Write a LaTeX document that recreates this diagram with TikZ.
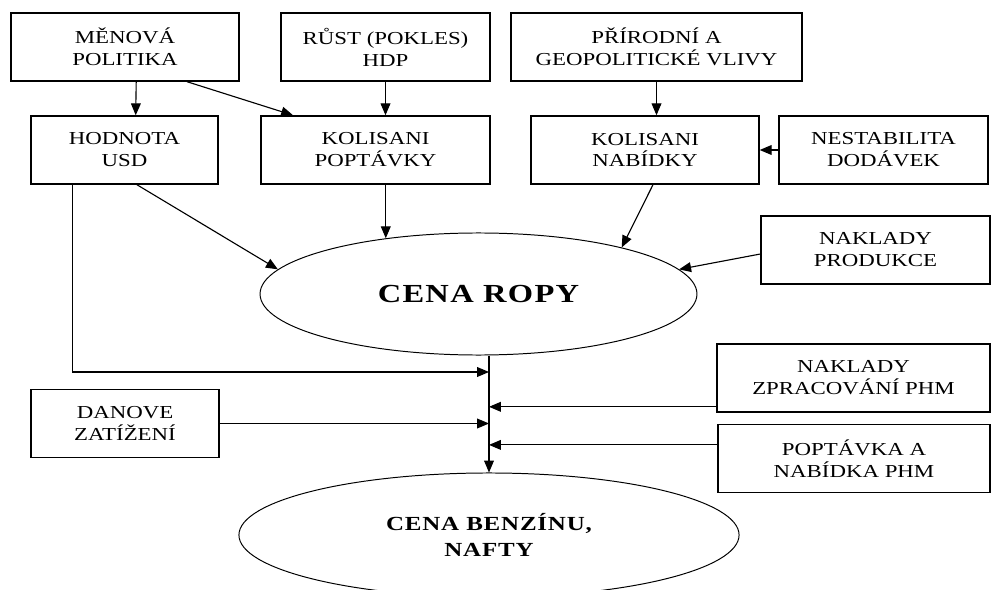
\documentclass[tikz,border=0pt]{standalone}
\usepackage{fontspec}
\setmainfont{Liberation Serif}[FakeStretch=1.25]
\usetikzlibrary{arrows.meta,shapes.geometric}

\tikzset{
  factor/.style={draw, line width=1pt, rectangle, align=center, inner sep=2pt,
    minimum height=1.7cm, font=\fontsize{13}{15.6}\selectfont},
  price/.style={draw, line width=0.7pt, ellipse, align=center, inner sep=0pt},
  arr/.style={line width=0.8pt, -{Triangle[length=8.5pt,width=7pt]}},
  link/.style={line width=0.8pt}
}

\begin{document}
\begin{tikzpicture}[x=0.025cm,y=-0.025cm]
  \useasboundingbox (0,0) rectangle (991,590);

  % top row
  \node[factor, minimum width=5.7cm] (menova) at (125,47) {MĚNOVÁ\\POLITIKA};
  \node[factor, minimum width=5.22cm] (rust) at (385.5,47) {RŮST (POKLES)\\HDP};
  \node[factor, minimum width=7.27cm] (prirodni) at (656.5,47) {PŘÍRODNÍ A\\GEOPOLITICKÉ VLIVY};

  % second row
  \node[factor, minimum width=4.67cm] (hodnota) at (124.5,150) {HODNOTA\\USD};
  \node[factor, minimum width=5.72cm] (poptavky) at (375.5,150) {KOLISANI\\POPTÁVKY};
  \node[factor, minimum width=5.7cm] (nabidky) at (645,150) {KOLISANI\\NABÍDKY};
  \node[factor, minimum width=5.22cm] (nestabilita) at (883.5,150) {NESTABILITA\\DODÁVEK};

  \node[factor, minimum width=5.72cm] (produkce) at (875.5,250) {NAKLADY\\PRODUKCE};

  \node[price, minimum width=10.92cm, minimum height=3.05cm,
    font=\fontsize{18.5}{22}\bfseries\selectfont\addfontfeatures{LetterSpace=5}] (ropa) at (478.5,294) {CENA ROPY};

  % lower part
  \node[factor, minimum width=6.82cm] (zpracovani) at (853.5,378) {NAKLADY\\ZPRACOVÁNÍ PHM};
  \node[factor, minimum width=6.8cm] (phm) at (854,458.5) {POPTÁVKA A\\NABÍDKA PHM};
  \node[factor, minimum width=4.7cm] (danove) at (125,423.5) {DANOVE\\ZATÍŽENÍ};

  \node[price, minimum width=12.5cm, minimum height=3.1cm,
    font=\fontsize{14.2}{18.5}\bfseries\selectfont\addfontfeatures{LetterSpace=4}] (benzin) at (489,535) {CENA BENZÍNU,\\NAFTY};

  % arrows into the second row
  \draw[arr] ([xshift=0.28cm]menova.south) -- ([xshift=0.28cm]hodnota.north);
  \draw[arr] ([xshift=1.55cm]menova.south) -- ([xshift=-2.06cm]poptavky.north);
  \draw[arr] (rust.south) -- (rust.south |- poptavky.north);
  \draw[arr] (prirodni.south) -- (prirodni.south |- nabidky.north);
  \draw[arr] (nestabilita.west) -- (nabidky.east);

  % arrows into CENA ROPY
  \draw[arr] ([xshift=0.31cm]hodnota.south) -- (ropa.173);
  \draw[arr] (poptavky.south -| ropa.149.5) -- (ropa.149.5);
  \draw[arr] ([xshift=0.2cm]nabidky.south) -- (ropa.18);
  \draw[arr] ([yshift=-0.1cm]produkce.west) -- (ropa.7);

  % collector down to CENA BENZINU
  \draw[arr] (ropa.south -| benzin.north) -- (benzin.north);
  \draw[arr] ([xshift=-1.29cm]hodnota.south) |- (489,372);
  \draw[arr] ([yshift=-0.72cm]zpracovani.west) -- ([yshift=-0.72cm]zpracovani.west -| benzin.north);
  \draw[arr] (danove.east) -- (danove.east -| benzin.north);
  \draw[arr] ([yshift=0.34cm]phm.west) -- ([yshift=0.34cm]phm.west -| benzin.north);
\end{tikzpicture}
\end{document}
